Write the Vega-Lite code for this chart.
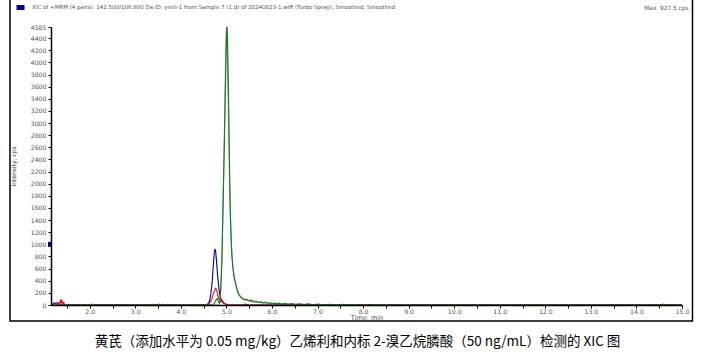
{
  "$schema": "https://vega.github.io/schema/vega-lite/v6.json",
  "width": 631,
  "height": 278,
  "autosize": {"type": "none"},
  "padding": {"left": 51, "top": 27, "right": 25, "bottom": 51},
  "background": "white",
  "config": {"view": {"stroke": null}, "font": "DejaVu Sans", "axis": {"labelOverlap": false, "labelFlush": false, "grid": false}},
  "title": {
    "text": "黄芪（添加水平为 0.05 mg/kg）乙烯利和内标 2-溴乙烷膦酸（50 ng/mL）检测的 XIC 图",
    "orient": "bottom",
    "anchor": "middle",
    "frame": "group",
    "font": "Noto Sans CJK SC",
    "fontSize": 13.5,
    "fontWeight": "normal",
    "color": "#000000",
    "offset": 13,
    "dx": -9
  },
  "datasets": {
    "traces": [
      {"s":"gray","t":1.2,"i":0},{"s":"gray","t":4.84,"i":0},{"s":"gray","t":4.86,"i":80},{"s":"gray","t":4.88,"i":350},{"s":"gray","t":4.9,"i":760},{"s":"gray","t":4.925,"i":1700},{"s":"gray","t":4.955,"i":2800},{"s":"gray","t":4.975,"i":3700},{"s":"gray","t":4.99,"i":4300},{"s":"gray","t":5.0,"i":4520},{"s":"gray","t":5.01,"i":4480},{"s":"gray","t":5.025,"i":4000},{"s":"gray","t":5.045,"i":3200},{"s":"gray","t":5.065,"i":2200},{"s":"gray","t":5.085,"i":1500},{"s":"gray","t":5.11,"i":1000},{"s":"gray","t":5.14,"i":650},{"s":"gray","t":5.17,"i":470},{"s":"gray","t":5.21,"i":330},{"s":"gray","t":5.26,"i":200},{"s":"gray","t":5.33,"i":120},{"s":"gray","t":5.42,"i":85},{"s":"gray","t":5.55,"i":55},{"s":"gray","t":5.7,"i":40},{"s":"gray","t":5.9,"i":30},{"s":"gray","t":6.1,"i":20},{"s":"gray","t":6.4,"i":15},{"s":"gray","t":6.8,"i":8},{"s":"gray","t":7.2,"i":0},{"s":"gray","t":15,"i":0},

      {"s":"blue","t":1.18,"i":0},{"s":"blue","t":1.2,"i":25},{"s":"blue","t":1.22,"i":35},{"s":"blue","t":1.25,"i":30},{"s":"blue","t":1.28,"i":38},{"s":"blue","t":1.31,"i":20},{"s":"blue","t":1.34,"i":5},{"s":"blue","t":1.37,"i":0},{"s":"blue","t":4.55,"i":0},{"s":"blue","t":4.6,"i":20},{"s":"blue","t":4.63,"i":70},{"s":"blue","t":4.66,"i":190},{"s":"blue","t":4.69,"i":400},{"s":"blue","t":4.715,"i":680},{"s":"blue","t":4.735,"i":870},{"s":"blue","t":4.75,"i":925},{"s":"blue","t":4.765,"i":880},{"s":"blue","t":4.785,"i":700},{"s":"blue","t":4.81,"i":460},{"s":"blue","t":4.84,"i":250},{"s":"blue","t":4.87,"i":120},{"s":"blue","t":4.9,"i":60},{"s":"blue","t":4.94,"i":30},{"s":"blue","t":4.98,"i":15},{"s":"blue","t":5.05,"i":5},{"s":"blue","t":5.12,"i":0},{"s":"blue","t":5.38,"i":0},{"s":"blue","t":5.42,"i":15},{"s":"blue","t":5.46,"i":0},{"s":"blue","t":15,"i":0},

      {"s":"red","t":1.2,"i":0},{"s":"red","t":1.32,"i":0},{"s":"red","t":1.33,"i":50},{"s":"red","t":1.345,"i":10},{"s":"red","t":1.36,"i":95},{"s":"red","t":1.375,"i":25},{"s":"red","t":1.39,"i":70},{"s":"red","t":1.41,"i":15},{"s":"red","t":1.43,"i":45},{"s":"red","t":1.45,"i":5},{"s":"red","t":1.47,"i":0},{"s":"red","t":2.03,"i":0},{"s":"red","t":2.05,"i":15},{"s":"red","t":2.07,"i":0},{"s":"red","t":3.58,"i":0},{"s":"red","t":3.6,"i":12},{"s":"red","t":3.62,"i":0},{"s":"red","t":4.55,"i":0},{"s":"red","t":4.6,"i":15},{"s":"red","t":4.64,"i":40},{"s":"red","t":4.68,"i":100},{"s":"red","t":4.71,"i":180},{"s":"red","t":4.74,"i":240},{"s":"red","t":4.765,"i":275},{"s":"red","t":4.79,"i":235},{"s":"red","t":4.81,"i":160},{"s":"red","t":4.84,"i":95},{"s":"red","t":4.87,"i":55},{"s":"red","t":4.9,"i":90},{"s":"red","t":4.93,"i":50},{"s":"red","t":4.97,"i":20},{"s":"red","t":5.02,"i":0},{"s":"red","t":14.55,"i":0},{"s":"red","t":14.6,"i":14},{"s":"red","t":14.65,"i":0},{"s":"red","t":15,"i":0},

      {"s":"green","t":1.2,"i":0},{"s":"green","t":3.38,"i":0},{"s":"green","t":3.4,"i":14},{"s":"green","t":3.42,"i":0},{"s":"green","t":3.5,"i":0},{"s":"green","t":3.52,"i":16},{"s":"green","t":3.54,"i":0},{"s":"green","t":4.3,"i":0},{"s":"green","t":4.33,"i":12},{"s":"green","t":4.36,"i":0},{"s":"green","t":4.55,"i":0},{"s":"green","t":4.6,"i":18},{"s":"green","t":4.63,"i":0},{"s":"green","t":4.7,"i":0},{"s":"green","t":4.74,"i":30},{"s":"green","t":4.77,"i":80},{"s":"green","t":4.8,"i":110},{"s":"green","t":4.83,"i":40},{"s":"green","t":4.86,"i":50},{"s":"green","t":4.88,"i":300},{"s":"green","t":4.9,"i":700},{"s":"green","t":4.93,"i":1700},{"s":"green","t":4.96,"i":2850},{"s":"green","t":4.98,"i":3650},{"s":"green","t":4.995,"i":4250},{"s":"green","t":5.005,"i":4585},{"s":"green","t":5.015,"i":4585},{"s":"green","t":5.025,"i":4350},{"s":"green","t":5.035,"i":3950},{"s":"green","t":5.05,"i":3300},{"s":"green","t":5.065,"i":2500},{"s":"green","t":5.08,"i":1750},{"s":"green","t":5.1,"i":1150},{"s":"green","t":5.12,"i":800},{"s":"green","t":5.15,"i":560},{"s":"green","t":5.18,"i":420},{"s":"green","t":5.22,"i":290},{"s":"green","t":5.26,"i":190},{"s":"green","t":5.3,"i":140},{"s":"green","t":5.35,"i":105},{"s":"green","t":5.4,"i":85},{"s":"green","t":5.45,"i":95},{"s":"green","t":5.5,"i":70},{"s":"green","t":5.55,"i":80},{"s":"green","t":5.6,"i":55},{"s":"green","t":5.65,"i":65},{"s":"green","t":5.7,"i":45},{"s":"green","t":5.75,"i":55},{"s":"green","t":5.8,"i":35},{"s":"green","t":5.85,"i":48},{"s":"green","t":5.9,"i":30},{"s":"green","t":5.95,"i":40},{"s":"green","t":6.0,"i":25},{"s":"green","t":6.05,"i":35},{"s":"green","t":6.1,"i":20},{"s":"green","t":6.15,"i":30},{"s":"green","t":6.2,"i":15},{"s":"green","t":6.3,"i":28},{"s":"green","t":6.35,"i":10},{"s":"green","t":6.45,"i":24},{"s":"green","t":6.5,"i":8},{"s":"green","t":6.6,"i":20},{"s":"green","t":6.7,"i":6},{"s":"green","t":6.8,"i":18},{"s":"green","t":6.9,"i":5},{"s":"green","t":7.0,"i":15},{"s":"green","t":7.1,"i":4},{"s":"green","t":7.25,"i":12},{"s":"green","t":7.4,"i":0},{"s":"green","t":7.55,"i":10},{"s":"green","t":7.7,"i":0},{"s":"green","t":7.9,"i":8},{"s":"green","t":8.05,"i":0},{"s":"green","t":8.3,"i":6},{"s":"green","t":8.45,"i":0},{"s":"green","t":9.2,"i":0},{"s":"green","t":9.22,"i":10},{"s":"green","t":9.25,"i":0},{"s":"green","t":9.6,"i":0},{"s":"green","t":9.62,"i":8},{"s":"green","t":9.65,"i":0},{"s":"green","t":10.3,"i":0},{"s":"green","t":10.32,"i":9},{"s":"green","t":10.35,"i":0},{"s":"green","t":11.4,"i":0},{"s":"green","t":11.42,"i":7},{"s":"green","t":11.45,"i":0},{"s":"green","t":13.0,"i":0},{"s":"green","t":13.02,"i":6},{"s":"green","t":13.05,"i":0},{"s":"green","t":14.55,"i":0},{"s":"green","t":14.58,"i":12},{"s":"green","t":14.62,"i":0},{"s":"green","t":15,"i":0}
    ],
    "one": [{"n": 1}]
  },
  "layer": [
    {
      "data": {"name": "traces"},
      "mark": {"type": "line", "strokeWidth": 1.1, "clip": true},
      "encoding": {
        "x": {
          "field": "t", "type": "quantitative", "title": "Time, min",
          "scale": {"domain": [1.15, 15.0], "nice": false, "zero": false},
          "axis": {
            "values": [1.5,2,2.5,3,3.5,4,4.5,5,5.5,6,6.5,7,7.5,8,8.5,9,9.5,10,10.5,11,11.5,12,12.5,13,13.5,14,14.5,15],
            "tickCount": 200,
            "labelExpr": "datum.value % 1 == 0 ? format(datum.value, '.1f') : ''",
            "titleFont": "DejaVu Sans", "titleFontSize": 6.5, "titleFontWeight": "normal", "titleColor": "#555555", "titlePadding": 0.5,
            "labelFont": "DejaVu Sans", "labelFontSize": 6.2, "labelColor": "#555555", "labelPadding": 0, "labelOverlap": false, "labelFlush": false,
            "tickSize": 3, "tickColor": "#000000", "domainColor": "#000000", "domainWidth": 1.5, "grid": false, "zindex": 1
          }
        },
        "y": {
          "field": "i", "type": "quantitative", "title": "Intensity, cps",
          "scale": {"domain": [0, 4585], "nice": false, "zero": false},
          "axis": {
            "values": [0,200,400,600,800,1000,1200,1400,1600,1800,2000,2200,2400,2600,2800,3000,3200,3400,3600,3800,4000,4200,4400,4585],
            "tickCount": 200,
            "format": "d",
            "titleFont": "DejaVu Sans", "titleFontSize": 6, "titleFontWeight": "normal", "titleColor": "#333333",
            "titleX": -35, "titleY": 139,
            "labelFont": "DejaVu Sans", "labelFontSize": 6.2, "labelColor": "#555555", "labelPadding": 2, "labelOverlap": false, "labelFlush": false,
            "tickSize": 3, "tickColor": "#000000", "domainColor": "#000000", "domainWidth": 1.5, "grid": false, "zindex": 1
          }
        },
        "color": {
          "field": "s", "type": "nominal",
          "scale": {"domain": ["gray", "blue", "red", "green"], "range": ["#8c8c8c", "#00009c", "#dc1420", "#1a7a1a"]},
          "legend": null
        }
      }
    },
    {
      "data": {"name": "one"},
      "mark": {"type": "rect", "fillOpacity": 0, "stroke": "#000000", "strokeWidth": 1.5, "clip": false},
      "encoding": {
        "x": {"datum": 0.25, "type": "quantitative", "title": "Time, min"},
        "x2": {"datum": 15.23},
        "y": {"datum": -265, "type": "quantitative", "title": "Intensity, cps"},
        "y2": {"datum": 5100}
      }
    },
    {
      "data": {"name": "one"},
      "mark": {"type": "rect", "fill": "#00008b", "clip": false},
      "encoding": {
        "x": {"datum": 0.394, "type": "quantitative", "title": "Time, min"},
        "x2": {"datum": 0.569},
        "y": {"datum": 4948, "type": "quantitative", "title": "Intensity, cps"},
        "y2": {"datum": 4865}
      }
    },
    {
      "data": {"name": "one"},
      "mark": {"type": "rect", "fill": "#00008b", "clip": false},
      "encoding": {
        "x": {"datum": 1.084, "type": "quantitative", "title": "Time, min"},
        "x2": {"datum": 1.15},
        "y": {"datum": 1041, "type": "quantitative", "title": "Intensity, cps"},
        "y2": {"datum": 959}
      }
    },
    {
      "data": {"name": "one"},
      "mark": {"type": "text", "align": "left", "baseline": "middle", "font": "DejaVu Sans", "fontSize": 5.5, "color": "#555555", "clip": false},
      "encoding": {
        "x": {"datum": 0.733, "type": "quantitative", "title": "Time, min"},
        "y": {"datum": 4915, "type": "quantitative", "title": "Intensity, cps"},
        "text": {"value": "XIC of +MRM (4 pairs): 142.500/106.800 Da ID: yixili-1 from Sample 7 (1.d) of 20240823-1.wiff (Turbo Spray), Smoothed, Smoothed"}
      }
    },
    {
      "data": {"name": "one"},
      "mark": {"type": "text", "align": "right", "baseline": "middle", "font": "DejaVu Sans", "fontSize": 5.8, "color": "#555555", "clip": false},
      "encoding": {
        "x": {"datum": 15.18, "type": "quantitative", "title": "Time, min"},
        "y": {"datum": 4898, "type": "quantitative", "title": "Intensity, cps"},
        "text": {"value": "Max. 927.5 cps."}
      }
    }
  ]
}
